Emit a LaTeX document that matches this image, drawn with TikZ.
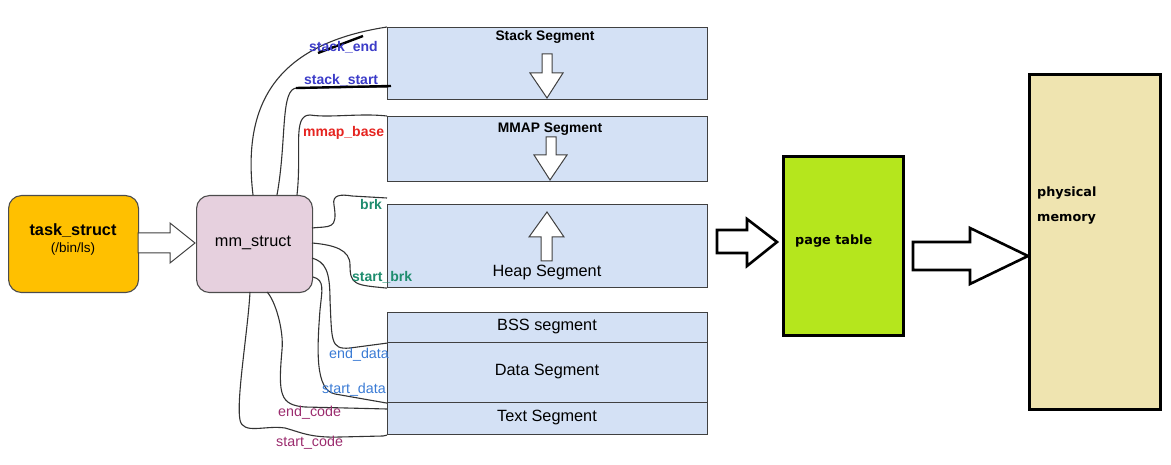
\documentclass[tikz,border=0pt]{standalone}
\usepackage{fontspec}
\setmainfont{Liberation Sans}
\newfontfamily\cnfont{DejaVu Sans}
\newcommand{\fsz}[1]{\fontsize{#1}{#1}\selectfont}
\definecolor{taskc}{HTML}{FFC000}
\definecolor{mmc}{HTML}{E6D0DE}
\definecolor{segc}{HTML}{D4E1F5}
\definecolor{ptc}{HTML}{B5E61D}
\definecolor{pmc}{HTML}{EFE4B0}
\definecolor{stk}{HTML}{3C3CC8}
\definecolor{mmp}{HTML}{E52420}
\definecolor{brkc}{HTML}{1E8C6E}
\definecolor{datc}{HTML}{3A7BD5}
\definecolor{codc}{HTML}{9B2C6E}
\begin{document}
\begin{tikzpicture}[x=1pt,y=-1pt,
  rbox/.style={draw=black!70, line width=1.1pt, rounded corners=13pt, inner sep=0pt, anchor=north west, minimum width=130pt, minimum height=97pt},
  seg/.style={draw=black!75, line width=1.1pt, fill=segc, inner sep=0pt, anchor=north west, minimum width=320pt},
  bbox/.style={draw=black, line width=2.6pt, inner sep=0pt, anchor=north west},
  lbl/.style={inner sep=0pt, anchor=west, font=\fsz{14}\bfseries},
  lblr/.style={inner sep=0pt, anchor=west, font=\fsz{14.3}},
  wire/.style={draw=black!80, line width=1.1pt},
  hol/.style={draw=black!75, line width=1pt, fill=white, line join=miter},
  bigarr/.style={draw=black, line width=2.6pt, fill=white, line join=miter},
  segtxt/.style={inner sep=0pt, font=\fsz{16.3}},
  segtxtb/.style={inner sep=0pt, font=\fsz{13.8}\bfseries},
  rtxt/.style={inner sep=0pt, anchor=west, font=\cnfont\bfseries\fsz{12.8}}
]
\useasboundingbox (0,0) rectangle (1171,465);
% left boxes
\node[rbox, fill=taskc] (task) at (8,195) {};
\node[inner sep=0pt, font=\fsz{16.3}\bfseries] (tasktxt) at (73,231) {task\_struct};
\node[inner sep=0pt, font=\fsz{13.5}] (taskbin) at (73,249) {(/bin/ls)};
\node[rbox, fill=mmc, minimum width=116pt] (mm) at (196,195) {};
\node[inner sep=0pt, font=\fsz{16.3}] (mmtxt) at (253,243) {mm\_struct};
% task -> mm block arrow
\draw[hol] (138,233) -- (170,233) -- (170,223) -- (195,243) -- (170,263) -- (170,253) -- (138,253) -- cycle;
% segments
\node[seg, minimum height=72pt] (stack) at (387,27) {};
\node[seg, minimum height=65pt] (mmap) at (387,116) {};
\node[seg, minimum height=83pt] (heap) at (387,204) {};
\node[seg, minimum height=30pt] (bss) at (387,312) {};
\node[seg, minimum height=60pt] (data) at (387,342) {};
\node[seg, minimum height=32pt] (text) at (387,402) {};
\node[segtxtb] (stacktxt) at (545,37) {Stack Segment};
\node[segtxtb] (mmaptxt) at (550,129) {MMAP Segment};
\node[segtxt] (heaptxt) at (547,273) {Heap Segment};
\node[segtxt] (bsstxt) at (547,327) {BSS segment};
\node[segtxt] (datatxt) at (547,372) {Data Segment};
\node[segtxt] (texttxt) at (547,418) {Text Segment};
% inner arrows
\draw[hol] (542,54) -- (552,54) -- (552,73) -- (563,73) -- (547,98) -- (530,73) -- (542,73) -- cycle;
\draw[hol] (546,137) -- (556,137) -- (556,155) -- (567,155) -- (550,180) -- (534,155) -- (546,155) -- cycle;
\draw[hol] (547,212) -- (564,237) -- (552,237) -- (552,261) -- (541,261) -- (541,237) -- (529,237) -- cycle;
% wires
\coordinate (c1) at (253,195);
\coordinate (c2) at (277,195);
\coordinate (c3) at (297,195);
\coordinate (c4) at (312,228);
\coordinate (c5) at (312,243);
\coordinate (c6) at (312,258);
\coordinate (c7) at (313,277);
\coordinate (c8) at (267,292);
\coordinate (c9) at (250,292);
\coordinate (ss) at (387,87);
\coordinate (bk) at (387,198);
\coordinate (ec) at (387,409);
\draw[wire] (c1) .. controls (243,110) and (270,45) .. (stack.north west);
\draw[wire] (c2) .. controls (287,140) and (280,88) .. (297,88) -- (ss);
\draw[wire] (c3) .. controls (302,150) and (292,115) .. (310,115) .. controls (330,118) and (360,113) .. (mmap.north west);
\draw[wire] (c4) .. controls (330,226) and (338,230) .. (334,205) .. controls (332,195) and (340,194) .. (352,196) -- (bk);
\draw[wire] (c5) .. controls (335,245) and (350,250) .. (350,265) .. controls (350,285) and (355,285) .. (heap.south west);
\draw[wire] (c6) .. controls (325,262) and (330,270) .. (330,300) .. controls (332,340) and (330,350) .. (350,348) -- (bss.south west);
\draw[wire] (c7) .. controls (325,280) and (322,290) .. (320,310) .. controls (317,350) and (315,390) .. (335,394) -- (data.south west);
\draw[wire] (c8) .. controls (275,300) and (284,330) .. (282,350) .. controls (278,395) and (280,405) .. (305,407) -- (ec);
\draw[wire] (c9) .. controls (248,330) and (236,400) .. (240,420) .. controls (243,435) and (265,425) .. (285,428) .. controls (300,432) and (310,438) .. (340,437) -- (383,436) -- (text.south west);
% thick black marks
\coordinate (m1) at (318,53);
\coordinate (m2) at (363,36);
\coordinate (u1) at (296,88);
\coordinate (u2) at (391,86);
\draw[line width=2.4pt, black] (m1) -- (m2);
% labels
\node[lbl, text=stk] (lse) at (309,47) {stack\_end};
\node[lbl, text=stk] (lss) at (304,80) {stack\_start};
\draw[line width=2.4pt, black] (u1) -- (u2);
\node[lbl, text=mmp] (lmb) at (303,133) {mmap\_base};
\node[lbl, text=brkc] (lbrk) at (360,204) {brk};
\node[lbl, text=brkc] (lsb) at (352,277) {start\_brk};
\node[lblr, text=datc] (led) at (329,355) {end\_data};
\node[lblr, text=datc] (lsd) at (322,390) {start\_data};
\node[lblr, text=codc] (lec) at (278,413) {end\_code};
\node[lblr, text=codc] (lsc) at (276,443) {start\_code};
% right part
\draw[bigarr] (717,230) -- (747,230) -- (747,219) -- (777,242) -- (747,266) -- (747,253) -- (717,253) -- cycle;
\node[bbox, fill=ptc, minimum width=120pt, minimum height=179pt] (pt) at (782,155) {};
\node[rtxt] (pttxt) at (795,241) {page table};
\draw[bigarr] (913,242) -- (970,242) -- (970,228) -- (1028,256) -- (970,284) -- (970,270) -- (913,270) -- cycle;
\node[bbox, fill=pmc, minimum width=131pt, minimum height=335pt] (pm) at (1028,73) {};
\node[rtxt] (pmtxt1) at (1037,193) {physical};
\node[rtxt] (pmtxt2) at (1037,219) {memory};
\end{tikzpicture}
\end{document}
